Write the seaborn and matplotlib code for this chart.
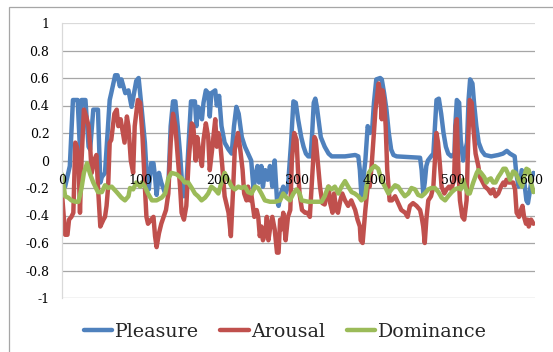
import numpy as np
import pandas as pd
import matplotlib
matplotlib.use('Agg')
import matplotlib.pyplot as plt
from matplotlib.patches import Rectangle
import seaborn as sns

# ── DATA ──────────────────────────────────────────────────────
pleasure_x = [0, 4, 10, 14, 20, 23, 25, 30, 34, 36, 40, 46, 49, 51, 55, 61, 63, 68, 71, 74,
              76, 81, 85, 89, 95, 98, 102, 106, 108, 111, 114, 117, 119, 121, 124, 127, 132, 136, 139, 142,
              145, 148, 151, 153, 156, 159, 162, 165, 170, 172, 174, 176, 179, 181, 184, 187, 189, 191, 196, 198,
              201, 204, 208, 213, 217, 220, 223, 226, 230, 234, 238, 242, 245, 247, 250, 252, 255, 257, 260, 263,
              266, 269, 272, 275, 277, 280, 283, 286, 289, 293, 296, 299, 302, 306, 309, 312, 315, 318, 320, 322,
              324, 326, 328, 331, 336, 341, 345, 362, 375, 379, 381, 383, 385, 388, 391, 394, 397, 399, 402, 407,
              409, 412, 415, 418, 421, 424, 428, 458, 460, 462, 464, 466, 468, 472, 475, 477, 479, 482, 485, 488,
              491, 494, 498, 502, 503, 505, 508, 510, 513, 515, 518, 520, 522, 525, 527, 530, 533, 537, 541, 549,
              558, 564, 569, 573, 579, 581, 584, 586, 588, 590, 592, 594, 596, 598, 601, 603]
pleasure_y = [-0.18, -0.19, -0.04, 0.44, 0.44, 0.08, 0.44, 0.44, 0.10, 0.08, 0.37, 0.37, -0.16, -0.12, -0.09, 0.44, 0.49, 0.62, 0.62, 0.54,
              0.59, 0.49, 0.51, 0.39, 0.58, 0.60, 0.37, 0.13, -0.07, -0.21, -0.02, -0.02, -0.12, -0.25, -0.09, -0.16, -0.24, -0.19, 0.25, 0.43,
              0.43, 0.25, 0.05, -0.12, -0.26, -0.19, 0.13, 0.43, 0.43, 0.25, 0.39, 0.37, 0.30, 0.42, 0.51, 0.49, 0.32, 0.49, 0.51, 0.40,
              0.47, 0.25, 0.13, 0.08, 0.05, 0.25, 0.39, 0.34, 0.17, 0.10, 0.05, 0.00, -0.21, -0.12, -0.04, -0.16, -0.04, -0.19, -0.07, -0.14,
              -0.04, -0.19, 0.00, -0.29, -0.33, -0.24, -0.19, -0.24, -0.19, 0.13, 0.43, 0.42, 0.30, 0.17, 0.10, 0.05, 0.03, 0.03, 0.20, 0.42,
              0.45, 0.39, 0.30, 0.17, 0.10, 0.05, 0.03, 0.03, 0.04, 0.03, -0.07, -0.26, -0.16, 0.00, 0.25, 0.20, 0.25, 0.42, 0.59, 0.60,
              0.59, 0.49, 0.37, 0.20, 0.08, 0.04, 0.03, 0.02, -0.07, -0.24, -0.16, -0.04, 0.00, 0.03, 0.05, 0.25, 0.44, 0.45, 0.34, 0.20,
              0.10, 0.05, 0.03, 0.05, 0.25, 0.44, 0.42, 0.15, 0.00, 0.05, 0.13, 0.44, 0.59, 0.56, 0.42, 0.25, 0.13, 0.07, 0.04, 0.03,
              0.04, 0.05, 0.07, 0.05, 0.03, -0.09, -0.19, -0.16, -0.07, -0.09, -0.19, -0.29, -0.31, -0.24, -0.12, -0.09]

arousal_x = [0, 4, 7, 9, 12, 14.5, 17, 19, 21, 23, 25, 28, 31, 34, 36, 38, 41, 44, 46, 49,
             53, 55, 57, 59, 61, 63, 67, 70, 72, 75, 78, 80, 83, 85, 88, 91, 93, 97, 100, 103,
             106, 108, 110, 114, 117, 119, 121, 124, 127, 130, 133, 136, 139, 142, 145, 148, 151, 153, 156, 159,
             162, 166, 168, 171, 173, 176, 179, 181, 184, 187, 189, 192, 196, 198, 200, 202, 205, 208, 213, 216,
             219, 221, 225, 228, 231, 233, 236, 238, 240, 242, 246, 249, 251, 253, 255, 257, 260, 262, 264, 266,
             269, 272, 275, 277, 279, 281, 283, 286, 289, 292, 294, 297, 300, 302, 304, 307, 311, 314, 317, 320,
             323, 324.5, 327, 330, 333, 336, 341, 343, 346, 348, 351, 353, 356, 358.5, 362, 366, 370, 375, 378, 381,
             382, 384.5, 386.5, 388, 391, 393.5, 396, 398.5, 401, 403.5, 405, 407, 409, 410, 412, 414, 416, 419, 422, 426,
             430, 434, 439, 442, 445, 449, 453.5, 458, 460, 462, 464, 466, 468.5, 472, 475, 477, 479, 481, 483.5, 485.5,
             489, 492, 495, 498, 501.5, 503.5, 505, 507, 509, 512, 514.5, 517.5, 519.5, 521.5, 524, 526, 529, 532.5, 534.5, 536.5,
             541, 545, 548.5, 551.5, 554.5, 558, 561.5, 564.5, 566.5, 568.5, 571.5, 577, 579.5, 581.5, 584.5, 587, 589, 591, 593.5, 595.5,
             597, 600, 603]
arousal_y = [-0.24, -0.54, -0.54, -0.43, -0.41, -0.38, 0.13, 0.10, 0.03, -0.38, 0.00, 0.37, 0.32, 0.25, 0.10, -0.09, 0.00, 0.04, -0.19, -0.48,
             -0.43, -0.41, -0.33, -0.19, 0.13, 0.15, 0.34, 0.37, 0.25, 0.30, 0.20, 0.13, 0.32, 0.25, 0.00, -0.09, 0.25, 0.44, 0.42, 0.17,
             -0.19, -0.41, -0.46, -0.43, -0.41, -0.55, -0.63, -0.53, -0.46, -0.41, -0.36, -0.24, 0.13, 0.34, 0.25, 0.03, -0.19, -0.38, -0.43, -0.33,
             0.00, 0.27, 0.25, 0.00, 0.17, 0.05, -0.04, 0.15, 0.27, 0.17, -0.07, 0.08, 0.30, 0.10, 0.20, 0.15, -0.04, -0.26, -0.38, -0.55,
             -0.19, 0.08, 0.20, 0.08, -0.07, -0.24, -0.29, -0.19, -0.29, -0.24, -0.41, -0.36, -0.41, -0.55, -0.48, -0.58, -0.53, -0.41, -0.58, -0.50,
             -0.41, -0.50, -0.67, -0.67, -0.43, -0.50, -0.38, -0.58, -0.41, -0.36, 0.00, 0.20, 0.15, -0.09, -0.25, -0.36, -0.38, -0.38, -0.41, -0.12,
             0.17, 0.15, 0.00, -0.19, -0.31, -0.32, -0.19, -0.31, -0.38, -0.24, -0.36, -0.38, -0.29, -0.24, -0.29, -0.33, -0.29, -0.36, -0.43, -0.48,
             -0.58, -0.60, -0.46, -0.36, -0.19, -0.19, -0.04, 0.17, 0.37, 0.49, 0.56, 0.49, 0.30, 0.51, 0.44, 0.25, -0.07, -0.29, -0.29, -0.26,
             -0.31, -0.36, -0.38, -0.41, -0.33, -0.31, -0.33, -0.36, -0.41, -0.48, -0.60, -0.43, -0.29, -0.26, -0.19, 0.00, 0.20, 0.13, -0.04, -0.19,
             -0.24, -0.21, -0.19, -0.21, -0.14, 0.25, 0.30, -0.07, -0.29, -0.41, -0.43, -0.29, 0.13, 0.44, 0.42, 0.25, 0.05, -0.04, -0.12, -0.14,
             -0.19, -0.21, -0.24, -0.21, -0.26, -0.24, -0.19, -0.16, -0.18, -0.14, -0.16, -0.16, -0.21, -0.38, -0.41, -0.36, -0.33, -0.41, -0.46, -0.43,
             -0.48, -0.43, -0.46]

dominance_x = [0, 4, 8, 12, 17, 21, 25, 28, 32, 36, 40, 46, 51, 55, 59, 63.5, 70, 76, 80.5, 85,
               87, 91, 95, 100, 102, 106, 110, 115, 121, 127.5, 132, 136, 140, 146.5, 153, 157, 161.5, 166, 170, 174,
               178.5, 183, 187, 191, 195.5, 200, 204, 208, 212.5, 217, 221, 225.5, 229.5, 234, 238, 242.5, 247, 251, 255, 259.5,
               266, 272.5, 279, 283, 287, 291.5, 296, 300, 304, 306.5, 315, 323.5, 332, 336, 340.5, 345, 349, 353.5, 357.5, 362,
               366, 370.5, 374.5, 379, 383, 387.5, 389.5, 392.5, 396, 400, 404.5, 408.5, 413, 417.5, 421.5, 426, 430, 434.5, 438.5, 443,
               447, 451.5, 455.5, 460, 464, 468.5, 472.5, 477, 481.5, 485.5, 490, 494, 498.5, 502.5, 507, 510, 513, 515.5, 519, 521.5,
               526, 530.5, 532.5, 536, 540, 543, 545, 548.5, 551.5, 554.5, 558, 561.5, 564.5, 567.5, 570, 573, 577, 580, 582.5, 585.5,
               588.5, 591, 594, 597, 600, 603]
dominance_y = [-0.10, -0.26, -0.27, -0.29, -0.30, -0.30, -0.20, -0.09, -0.02, -0.10, -0.16, -0.23, -0.23, -0.18, -0.20, -0.19, -0.23, -0.27, -0.29, -0.26,
               -0.20, -0.21, -0.16, -0.19, -0.16, -0.19, -0.24, -0.29, -0.29, -0.27, -0.24, -0.13, -0.09, -0.10, -0.13, -0.16, -0.16, -0.20, -0.24, -0.26,
               -0.29, -0.27, -0.24, -0.19, -0.21, -0.24, -0.16, -0.09, -0.14, -0.19, -0.21, -0.19, -0.20, -0.19, -0.23, -0.24, -0.19, -0.20, -0.24, -0.29,
               -0.30, -0.30, -0.29, -0.24, -0.27, -0.29, -0.24, -0.21, -0.24, -0.29, -0.30, -0.30, -0.30, -0.26, -0.19, -0.21, -0.19, -0.24, -0.19, -0.15,
               -0.19, -0.23, -0.24, -0.26, -0.29, -0.27, -0.19, -0.09, -0.06, -0.04, -0.06, -0.14, -0.19, -0.24, -0.21, -0.18, -0.19, -0.23, -0.26, -0.24,
               -0.20, -0.21, -0.25, -0.26, -0.24, -0.21, -0.20, -0.20, -0.23, -0.27, -0.29, -0.26, -0.23, -0.21, -0.20, -0.21, -0.14, -0.19, -0.24, -0.24,
               -0.16, -0.09, -0.07, -0.09, -0.12, -0.16, -0.14, -0.13, -0.16, -0.16, -0.12, -0.09, -0.06, -0.06, -0.09, -0.14, -0.08, -0.09, -0.12, -0.16,
               -0.19, -0.12, -0.06, -0.07, -0.16, -0.23]

series_names = ['Pleasure', 'Arousal', 'Dominance']
series_colors = ['#4F81BD', '#C0504D', '#9BBB59']
x_ticks = [0, 100, 200, 300, 400, 500, 600]
y_ticks = [1, 0.8, 0.6, 0.4, 0.2, 0, -0.2, -0.4, -0.6, -0.8, -1]

df = pd.concat([
    pd.DataFrame({'x': pleasure_x, 'value': pleasure_y, 'series': 'Pleasure'}),
    pd.DataFrame({'x': arousal_x, 'value': arousal_y, 'series': 'Arousal'}),
    pd.DataFrame({'x': dominance_x, 'value': dominance_y, 'series': 'Dominance'}),
], ignore_index=True)

# ── PLOT ───────────────────────────────────────────────────────
sns.set_theme(style='white')
plt.rcParams['font.family'] = ['DejaVu Serif']

fig = plt.figure(figsize=(5.53, 3.52), dpi=100)
ax = fig.add_axes([62 / 553, 1 - 298 / 352, 473 / 553, 275 / 352])

# gridlines under the data; the top one is lighter like the plot-area edge
for t in y_ticks:
    ax.axhline(t, color='#DADADA' if t == 1 else '#A6A6A6', lw=0.9, zorder=0)

sns.lineplot(data=df, x='x', y='value', hue='series', hue_order=series_names,
             palette=series_colors, estimator=None, linewidth=3.2, ax=ax)

ax.set_xlim(0, 605)
ax.set_ylim(-1, 1)
ax.set_xticks(x_ticks)
ax.set_xticklabels([str(t) for t in x_ticks])
ax.set_yticks(y_ticks)
ax.set_yticklabels([f'{t:g}' for t in y_ticks])
ax.set_xlabel('')
ax.set_ylabel('')
ax.set_axisbelow(False)

for side in ['top', 'right']:
    ax.spines[side].set_visible(False)
ax.spines['bottom'].set_position(('data', 0))
ax.spines['bottom'].set_color('#A6A6A6')
ax.spines['bottom'].set_linewidth(0.9)
ax.spines['bottom'].set_zorder(0)
ax.spines['left'].set_color('#D9D9D9')
ax.spines['left'].set_linewidth(0.9)
ax.tick_params(axis='both', length=0, labelsize=9, colors='black')
ax.tick_params(axis='y', pad=9)
ax.tick_params(axis='x', pad=10)

handles, labels = ax.get_legend_handles_labels()
ax.legend_.remove()
leg = fig.legend(handles, labels, loc='center', bbox_to_anchor=(285 / 553, 1 - 332 / 352),
                 ncol=3, frameon=False, fontsize=13.7, handlelength=1.5,
                 handletextpad=0.1, columnspacing=1.15)
for line in leg.get_lines():
    line.set_linewidth(3.2)

# chart area border: only its left and top edges fall inside the picture
fig.patches.append(Rectangle((9 / 553, -0.1), 1.0, 1.1 - 7 / 352, transform=fig.transFigure,
                             fill=False, edgecolor='#A6A6A6', lw=0.9))

fig.savefig('out.png', dpi=100)
